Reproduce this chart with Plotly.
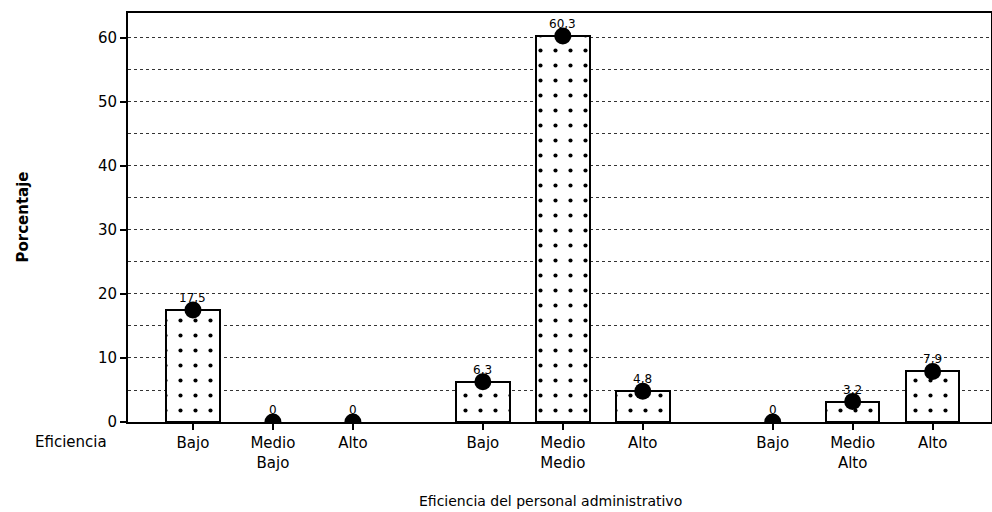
import plotly.graph_objects as go

# Data
levels = ["Bajo", "Medio", "Alto"]            # Eficiencia (inner)
groups = ["Bajo", "Medio", "Alto"]            # Eficiencia del personal administrativo (outer)
values = [17.5, 0, 0, 6.3, 60.3, 4.8, 0, 3.2, 7.9]
labels = ["17,5", "0", "0", "6,3", "60,3", "4,8", "0", "3,2", "7,9"]

# positions (grouped with gap between groups)
group_gap = 1.625
xpos = []
ticktext = []
for gi, g in enumerate(groups):
    for li, l in enumerate(levels):
        xpos.append(gi * (2 + group_gap) + li)
        ticktext.append(l + ("<br>" + g if li == 1 else ""))

font = "DejaVu Sans"
fig = go.Figure()
fig.add_trace(go.Bar(
    x=xpos, y=values, width=0.67,
    marker=dict(color="white",
                line=dict(color="black", width=[2 if v > 0 else 0 for v in values]),
                pattern=dict(shape=".", fgcolor="black", bgcolor="white", fgopacity=1,
                             size=15, solidity=0.06)),
    showlegend=False, hoverinfo="skip"))
fig.add_trace(go.Scatter(
    x=xpos, y=values, mode="markers",
    marker=dict(color="black", size=17), showlegend=False, cliponaxis=True,
    hoverinfo="skip"))

annotations = [dict(x=x, y=v, text=t, xref="x", yref="y", showarrow=False,
                    yshift=12, font=dict(size=12))
               for x, v, t in zip(xpos, values, labels)]
annotations += [
    dict(text="Eficiencia", xref="paper", yref="paper", x=-0.066, y=0, yshift=-9,
         xanchor="center", yanchor="top", showarrow=False, font=dict(size=15)),
    dict(text="Eficiencia del personal administrativo", xref="paper", yref="paper",
         x=0.49, y=0, yshift=-69, xanchor="center", yanchor="top", showarrow=False,
         font=dict(size=14)),
    dict(text="<b>Porcentaje</b>", xref="paper", yref="paper", x=-0.1228, y=0.5,
         xanchor="center", yanchor="middle", textangle=-90, showarrow=False,
         font=dict(size=15)),
]

fig.update_layout(
    width=992, height=512,
    margin=dict(l=128, r=1, t=13, b=90),
    paper_bgcolor="white", plot_bgcolor="white",
    font=dict(family=font, size=15, color="black"),
    bargap=0,
    xaxis=dict(range=[-0.8125, 9.98], tickvals=xpos, ticktext=ticktext,
               ticks="outside", ticklen=6, tickwidth=2, tickcolor="black",
               showline=True, linecolor="black", linewidth=2, mirror=True,
               showgrid=False, zeroline=False, automargin=False),
    yaxis=dict(range=[0, 63.9], tickvals=[0, 10, 20, 30, 40, 50, 60],
               ticks="outside", ticklen=6, tickwidth=2, tickcolor="black",
               showline=True, linecolor="black", linewidth=2, mirror=True,
               showgrid=True, gridcolor="#333", gridwidth=1, griddash="3px,3px",
               minor=dict(dtick=5, showgrid=True, gridcolor="#333", gridwidth=1,
                          griddash="3px,3px"),
               zeroline=False, automargin=False),
    annotations=annotations,
)
fig.write_html("out.html", config={"displayModeBar": False})

# remove default page margin so the figure sits at the window's top-left corner
with open("out.html", encoding="utf-8") as f:
    html = f.read()
html = html.replace("<head>", "<head><style>html,body{margin:0;padding:0;}</style>", 1)
with open("out.html", "w", encoding="utf-8") as f:
    f.write(html)
